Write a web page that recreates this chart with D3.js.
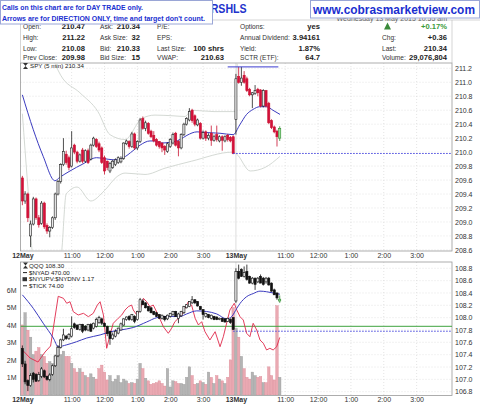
<!DOCTYPE html>
<html>
<head>
<meta charset="utf-8">
<script src="https://cdn.jsdelivr.net/npm/d3@7"></script>
<style>
  body { margin: 0; background: #fff; }
  svg { display: block; }
  text { font-family: "Liberation Sans", Arial, sans-serif; }
</style>
</head>
<body>
<svg id="chart" width="480" height="406"></svg>
<script>
// ---- SPY 5 min bars (12 May full day, 13 May to 10:50) ----
const spyOpen = [
  209.63,209.30,209.40,208.80,208.97,209.33,209.06,208.98,209.27,208.95,
  208.87,208.92,209.06,209.40,209.58,209.82,209.97,209.92,209.80,210.10,
  210.00,209.87,210.03,209.87,210.02,209.90,210.10,210.18,210.12,210.06,
  209.92,209.87,209.73,209.78,209.82,209.85,209.86,209.91,210.12,210.15,
  210.08,210.26,210.06,210.15,210.48,210.34,210.41,210.30,210.24,210.18,
  210.15,210.13,210.08,210.01,210.08,210.13,210.27,210.15,210.06,210.25,
  210.40,210.46,210.60,210.52,210.39,210.41,210.20,210.29,210.20,210.27,
  210.17,210.25,210.16,210.22,210.16,210.24,210.21,210.22,
  210.47,211.08,211.00,211.10,211.05,210.90,210.82,210.84,210.90,210.89,
  210.66,210.88,210.70,210.45,210.36,210.30,210.20];
const spyHigh = [
  209.66,209.44,209.42,209.02,209.36,209.35,209.10,209.30,209.29,208.98,
  208.94,209.08,209.42,209.60,209.84,210.20,210.02,209.95,210.30,210.12,
  210.02,209.98,210.06,210.04,210.05,210.12,210.22,210.20,210.15,210.08,
  209.95,209.88,209.86,209.89,209.91,209.94,209.94,210.14,210.18,210.17,
  210.29,210.28,210.17,210.49,210.51,210.45,210.43,210.32,210.30,210.20,
  210.16,210.14,210.10,210.14,210.20,210.28,210.29,210.17,210.27,210.42,
  210.50,210.63,210.62,210.54,210.48,210.43,210.31,210.31,210.27,210.38,
  210.25,210.38,210.24,210.24,210.24,210.26,210.23,210.24,
  211.12,211.22,211.22,211.16,211.08,210.92,210.86,210.96,210.92,210.90,
  210.90,210.89,210.72,210.47,210.38,210.32,210.37];
const spyLow = [
  209.24,209.26,209.00,208.64,208.95,209.03,208.92,208.96,208.90,208.83,
  208.78,208.90,209.03,209.38,209.55,209.80,209.82,209.74,209.78,209.97,
  209.84,209.85,209.84,209.85,209.83,209.88,210.08,210.06,210.00,209.83,
  209.68,209.74,209.70,209.76,209.80,209.83,209.84,209.89,210.10,210.05,
  210.06,210.03,210.03,210.13,210.32,210.30,210.25,210.20,210.14,210.08,
  210.05,210.00,209.96,209.99,210.06,210.11,210.08,209.94,210.04,210.23,
  210.38,210.44,210.42,210.37,210.37,210.18,210.18,210.16,210.17,210.09,
  210.15,210.15,210.14,210.02,210.14,210.15,210.14,209.97,
  210.25,210.98,210.95,210.98,210.86,210.80,210.63,210.82,210.80,210.64,
  210.64,210.64,210.40,210.33,210.27,210.08,210.16];
const spyClose = [
  209.30,209.40,209.06,208.97,209.33,209.06,208.96,209.27,208.93,208.87,
  208.92,209.06,209.40,209.58,209.82,210.01,209.85,209.78,210.06,210.00,
  209.87,209.96,209.87,210.02,209.85,210.10,210.20,210.08,210.03,209.85,
  209.73,209.78,209.84,209.87,209.89,209.92,209.91,210.13,210.16,210.08,
  210.26,210.06,210.15,210.46,210.34,210.42,210.27,210.22,210.16,210.10,
  210.08,210.06,210.03,210.12,210.18,210.25,210.10,210.06,210.25,210.40,
  210.48,210.58,210.45,210.40,210.46,210.20,210.28,210.20,210.24,210.17,
  210.22,210.18,210.22,210.17,210.22,210.18,210.16,209.98,
  211.05,211.00,211.06,211.00,210.88,210.82,210.85,210.88,210.85,210.66,
  210.88,210.66,210.42,210.35,210.29,210.22,210.34];

// ---- QQQ 5 min bars ----
const qqqOpen = [
  107.50,107.25,106.98,106.90,107.10,107.08,106.98,107.05,107.14,107.05,
  107.00,107.08,107.22,107.38,107.52,107.64,107.70,107.66,107.70,107.90,
  107.88,107.81,107.89,107.86,107.80,107.89,107.83,107.86,107.92,107.98,
  107.91,107.86,107.78,107.66,107.70,107.75,107.80,107.88,107.97,108.02,
  107.97,108.02,107.97,108.10,108.27,108.24,108.18,108.16,108.10,108.08,
  108.05,107.99,108.02,107.98,108.02,108.05,108.10,107.99,108.03,108.08,
  108.16,108.18,108.24,108.29,108.26,108.18,108.13,108.02,108.05,107.99,
  108.02,108.01,107.97,107.99,107.98,107.94,107.97,108.00,
  108.27,108.75,108.78,108.67,108.75,108.67,108.56,108.64,108.58,108.67,
  108.64,108.58,108.64,108.56,108.45,108.40,108.27];
const qqqHigh = [
  107.55,107.30,107.00,107.10,107.12,107.10,107.12,107.20,107.16,107.06,
  107.10,107.24,107.40,107.55,107.66,107.82,107.72,107.75,108.02,107.92,
  107.89,107.90,107.90,107.88,107.90,107.91,107.92,108.00,108.03,108.00,
  107.92,107.87,107.79,107.76,107.81,107.84,107.92,107.99,108.02,108.04,
  108.06,108.04,108.11,108.32,108.30,108.25,108.19,108.17,108.11,108.09,
  108.06,108.05,108.03,108.05,108.08,108.11,108.11,108.08,108.11,108.19,
  108.22,108.27,108.35,108.30,108.27,108.19,108.14,108.08,108.06,108.05,
  108.03,108.02,108.00,108.00,107.99,108.00,107.99,108.01,
  108.80,108.86,108.80,108.83,108.86,108.68,108.66,108.65,108.66,108.70,
  108.66,108.66,108.66,108.57,108.47,108.41,108.36];
const qqqLow = [
  107.20,106.92,106.81,106.88,106.95,106.96,106.96,107.02,107.02,106.98,
  106.97,107.06,107.20,107.36,107.50,107.62,107.64,107.64,107.68,107.82,
  107.80,107.79,107.75,107.78,107.78,107.77,107.81,107.84,107.90,107.88,
  107.85,107.70,107.56,107.64,107.68,107.73,107.79,107.87,107.95,107.95,
  107.95,107.91,107.95,108.08,108.20,108.15,108.10,108.07,108.04,108.01,
  107.98,107.97,107.94,107.96,108.00,108.03,108.01,107.91,108.01,108.06,
  108.15,108.17,108.22,108.22,108.18,108.13,107.97,108.00,107.99,107.97,
  107.96,107.96,107.96,107.93,107.92,107.93,107.90,107.80,
  108.24,108.62,108.66,108.65,108.60,108.55,108.54,108.45,108.56,108.56,
  108.52,108.55,108.52,108.42,108.37,108.29,108.24];
const qqqClose = [
  107.25,106.96,106.90,107.06,107.00,106.97,107.08,107.17,107.04,107.00,
  107.07,107.22,107.38,107.52,107.64,107.72,107.66,107.73,107.82,107.84,
  107.81,107.89,107.78,107.80,107.89,107.78,107.91,107.97,108.00,107.91,
  107.86,107.74,107.66,107.72,107.78,107.83,107.90,107.98,108.01,107.97,
  108.05,107.94,108.10,108.29,108.21,108.16,108.11,108.08,108.05,108.02,
  107.99,108.04,107.97,108.04,108.07,108.10,108.02,108.06,108.10,108.18,
  108.21,108.26,108.29,108.24,108.19,108.13,108.05,108.07,108.00,108.04,
  107.97,107.97,107.99,107.94,107.93,107.99,107.92,107.81,
  108.75,108.64,108.67,108.73,108.62,108.56,108.64,108.54,108.64,108.56,
  108.54,108.64,108.53,108.43,108.37,108.32,108.30];

// ---- volume per bar, millions ----
const volume = [
  4.0,4.7,3.7,3.3,2.3,2.5,2.7,2.3,2.2,1.8,
  1.9,1.8,2.2,2.8,2.3,2.5,2.2,2.2,1.8,1.5,
  1.3,1.5,1.3,1.1,1.0,1.2,1.0,0.9,1.5,1.7,
  1.3,0.85,1.1,0.75,0.9,1.1,0.7,0.9,0.8,0.65,
  0.7,0.65,0.9,1.8,1.5,0.95,0.8,0.6,0.65,0.7,
  0.8,0.65,0.5,1.5,0.45,0.8,0.75,0.65,0.65,0.6,
  1.0,1.6,1.1,0.6,0.65,0.8,0.7,0.6,1.3,1.0,
  0.65,1.1,0.9,0.8,0.65,1.0,2.0,5.0,
  3.8,3.3,2.2,1.5,1.0,0.9,1.3,1.1,1.0,1.05,
  0.7,0.7,1.6,1.1,0.85,5.1,1.0];

// ---- moving averages / bands (bar index, value) ----
const spyMaIdx = [0,4,7.6,11.9,13.7,17.4,22.1,27.1,29.5,33.1,36.8,40.4,43,46.6,48.4,50.3,53.9,57.6,60.1,63.8,67.4,72.2,77,79.4,81.9,84.2,86.7,89.2,91.5,94.1];
const spyMaVal = [210.82,210.32,209.94,209.59,209.64,209.73,209.83,209.92,209.91,209.89,209.92,210.02,210.10,210.16,210.16,210.13,210.14,210.18,210.24,210.29,210.28,210.27,210.25,210.39,210.54,210.61,210.65,210.65,210.60,210.54];
const bbUpIdx = [10,14,21,27.6,32,37.5,43.6,48.4,55,59.4,61.8,70,77.7,78.6];
const bbUpVal = [211.45,211.10,210.85,210.58,210.25,210.18,210.48,210.53,210.52,210.51,210.60,210.58,210.58,211.45];
const bbLoIdx = [0,2,4,14,16,20,25,30,34.6,37.5,44.8,52.1,61.8,76.9,78.3,83.2,88.6,94.1];
const bbLoVal = [210.55,209.50,208.50,208.50,209.40,209.50,209.30,209.45,209.65,209.70,209.68,209.77,209.87,210.00,209.97,209.73,209.78,209.94];

const qqqMaIdx = [0,4,7.6,11.3,13.1,16.2,19.8,23.5,28.4,32,35.7,40.5,45.4,49.1,52.7,57.6,60,63.7,67.3,71,74.6,76.5,78.3,79.5,81.9,84.3,86.8,89.2,91.6,94.1];
const qqqMaVal = [108.37,108.15,107.91,107.67,107.53,107.56,107.61,107.67,107.72,107.77,107.80,107.84,107.93,108.00,108.02,108.02,108.06,108.11,108.10,108.06,107.98,108.02,108.15,108.23,108.34,108.39,108.43,108.42,108.40,108.38];

// $TICK line (bar index, value)
const tickIdx = [0,2.8,5.7,8.3,10.3,13.1,15,16.2,17.4,18.6,20.4,22.3,24.1,25.9,27.4,28.4,29.6,30.8,32,33.2,35,36.3,37.5,38.7,39.9,40.5,41.8,43,44.2,45.4,46.6,47.8,49.6,51.5,53.3,54.5,55.7,57,58.2,59.4,60.6,61.8,63.1,64.3,65.5,66.7,68.5,70.4,72.2,73.4,75.8,77.4,78.3,79.5,80.7,81.9,83.1,84.3,85.6,86.8,88,89.2,90.4,91.6,92.9,94];
const tickVal = [-113,-233,-293,-143,-54,688,658,584,607,458,409,434,384,434,558,607,409,-88,110,285,360,409,484,533,558,484,409,484,658,607,533,558,409,234,136,210,309,360,409,509,607,558,360,260,309,160,36,160,-64,85,484,584,484,384,334,136,85,285,185,36,-13,-113,-88,-113,-64,74];

// reference levels
const spyHighLine = 211.22, spyPrevClose = 209.98;
const qqqGreenLine = 107.86, qqqPrevClose = 107.78;

// axis ticks
const timeTickIdx = [0,18,30,42,54,66,78,96,108,120,132,144];
const timeLabels = ["12May","11:00","12:00","1:00","2:00","3:00","13May","11:00","12:00","1:00","2:00","3:00"];
const spyTicks = [208.6,208.8,209.0,209.2,209.4,209.6,209.8,210.0,210.2,210.4,210.6,210.8,211.0,211.2];
const qqqTicks = [106.8,107.0,107.2,107.4,107.6,107.8,108.0,108.2,108.4,108.6,108.8];
const volTicks = [1,2,3,4,5,6];

// ---------------------------------------------------------------
const svg = d3.select("#chart");
const L = 20.5, R = 452;
const up = { top: 63, bottom: 251 };
const lo = { top: 262, bottom: 395.5 };

const x = d3.scaleLinear().domain([0, 156]).range([21, 448.1]);
const cx = i => x(i + 0.5);
const yUp = d3.scaleLinear().domain([208.6, 211.2]).range([249.9, 68.3]);
const yLo = d3.scaleLinear().domain([106.8, 108.8]).range([391.7, 268.3]);
const yVol = d3.scaleLinear().domain([0, 6]).range([394.8, 290]);
const yTick = d3.scaleLinear().domain([-800, 1200]).range([396, 262]);

const defs = svg.append("defs");
defs.append("clipPath").attr("id", "clipUp").append("rect")
    .attr("x", L).attr("y", up.top).attr("width", R - L).attr("height", up.bottom - up.top);
defs.append("clipPath").attr("id", "clipLo").append("rect")
    .attr("x", L).attr("y", lo.top).attr("width", R - L).attr("height", lo.bottom - lo.top);

// ---- panel grids ----
function drawGrid(panel, yScale, ticks) {
    const g = svg.append("g");
    g.selectAll(".hg").data(ticks).enter().append("line")
        .attr("x1", L).attr("x2", R)
        .attr("y1", d => yScale(d)).attr("y2", d => yScale(d))
        .attr("stroke", "#d4d4d4").attr("stroke-width", 0.6).attr("stroke-dasharray", "1,2");
    g.selectAll(".vg").data(timeTickIdx.slice(1)).enter().append("line")
        .attr("x1", d => cx(d)).attr("x2", d => cx(d))
        .attr("y1", panel.top).attr("y2", panel.bottom)
        .attr("stroke", d => d === 78 ? "#c8c8c8" : "#d4d4d4").attr("stroke-width", 0.6)
        .attr("stroke-dasharray", d => d === 78 ? null : "1,2");
    svg.append("rect").attr("x", L).attr("y", panel.top)
        .attr("width", R - L).attr("height", panel.bottom - panel.top)
        .attr("fill", "none").attr("stroke", "#9a9a9a").attr("stroke-width", 0.8);
}
drawGrid(up, yUp, spyTicks);
drawGrid(lo, yLo, qqqTicks);

// ---- candle helper ----
function drawCandles(g, o, h, l, c, y, st) {
    const bw = 2.1;
    o.forEach((op, i) => {
        const isUp = c[i] >= op;
        const last = i === o.length - 1;
        const stroke = last ? "#2e8b2e" : (isUp ? st.upStroke : st.downStroke);
        const fill = last ? "#9ee09e" : (isUp ? st.upFill : st.downFill);
        g.append("line")
            .attr("x1", cx(i)).attr("x2", cx(i))
            .attr("y1", y(h[i])).attr("y2", y(l[i]))
            .attr("stroke", stroke).attr("stroke-width", 0.8);
        const top = y(Math.max(op, c[i])), bot = y(Math.min(op, c[i]));
        g.append("rect")
            .attr("x", cx(i) - bw / 2).attr("y", top)
            .attr("width", bw).attr("height", Math.max(bot - top, 0.8))
            .attr("fill", fill).attr("stroke", stroke).attr("stroke-width", 0.6);
    });
}
const knotLine = (xs, ys, yScale) => d3.line()
    .x((d, k) => cx(xs[k])).y(d => yScale(d))
    .curve(d3.curveMonotoneX)(ys);

// ---- upper panel: SPY ----
const gUp = svg.append("g").attr("clip-path", "url(#clipUp)");
gUp.append("path").attr("d", knotLine(bbUpIdx, bbUpVal, yUp))
    .attr("fill", "none").attr("stroke", "#c9cfc9").attr("stroke-width", 0.8);
gUp.append("path").attr("d", knotLine(bbLoIdx, bbLoVal, yUp))
    .attr("fill", "none").attr("stroke", "#c9cfc9").attr("stroke-width", 0.8);
gUp.append("path").attr("d", knotLine(spyMaIdx, spyMaVal, yUp))
    .attr("fill", "none").attr("stroke", "#3b3bbf").attr("stroke-width", 1);
drawCandles(gUp, spyOpen, spyHigh, spyLow, spyClose, yUp,
    { upFill: "#e8e8e8", upStroke: "#222", downFill: "#d4103c", downStroke: "#c8102e" });
gUp.append("line").attr("x1", x(75.5)).attr("x2", x(94))
    .attr("y1", yUp(spyHighLine)).attr("y2", yUp(spyHighLine))
    .attr("stroke", "#3b3bd0").attr("stroke-width", 1);
gUp.append("line").attr("x1", cx(77)).attr("x2", R)
    .attr("y1", yUp(spyPrevClose)).attr("y2", yUp(spyPrevClose))
    .attr("stroke", "#4a4ae0").attr("stroke-width", 1).attr("stroke-dasharray", "1.5,1.5");

// ---- lower panel: volume, $TICK, QQQ ----
const gLo = svg.append("g").attr("clip-path", "url(#clipLo)");
gLo.selectAll(".vol").data(volume).enter().append("rect")
    .attr("x", (d, i) => cx(i) - 1.25).attr("width", 2.5)
    .attr("y", d => yVol(d)).attr("height", d => yVol(0) - yVol(d))
    .attr("fill", (d, i) => spyClose[i] >= spyOpen[i] ? "#b4b4b4" : "#eaa9b2")
    .attr("stroke", (d, i) => spyClose[i] >= spyOpen[i] ? "#9c9c9c" : "#dc8c98")
    .attr("stroke-width", 0.4);
gLo.append("line").attr("x1", L).attr("x2", R)
    .attr("y1", yLo(qqqGreenLine)).attr("y2", yLo(qqqGreenLine))
    .attr("stroke", "#3fa33f").attr("stroke-width", 1);
gLo.append("line").attr("x1", cx(77)).attr("x2", R)
    .attr("y1", yLo(qqqPrevClose)).attr("y2", yLo(qqqPrevClose))
    .attr("stroke", "#4a4ae0").attr("stroke-width", 1).attr("stroke-dasharray", "1.5,1.5");
gLo.append("path")
    .attr("d", d3.line().x((d, k) => cx(tickIdx[k])).y(d => yTick(d))(tickVal))
    .attr("fill", "none").attr("stroke", "#e0284a").attr("stroke-width", 0.9);
gLo.append("path").attr("d", knotLine(qqqMaIdx, qqqMaVal, yLo))
    .attr("fill", "none").attr("stroke", "#3b3bbf").attr("stroke-width", 1);
drawCandles(gLo, qqqOpen, qqqHigh, qqqLow, qqqClose, yLo,
    { upFill: "#f4f4f4", upStroke: "#111", downFill: "#111", downStroke: "#111" });

// ---- axes ----
function styleAxis(g) {
    g.select(".domain").remove();
    g.selectAll("text").attr("fill", "#333").style("font-size", "7px")
        .style("font-family", "'Liberation Sans', Arial, sans-serif");
}
svg.append("g").attr("transform", `translate(${R},0)`)
    .call(d3.axisRight(yUp).tickValues(spyTicks).tickFormat(d3.format(".1f")).tickSize(0).tickPadding(3))
    .call(styleAxis);
svg.append("g").attr("transform", `translate(${R},0)`)
    .call(d3.axisRight(yLo).tickValues(qqqTicks).tickFormat(d3.format(".1f")).tickSize(0).tickPadding(3))
    .call(styleAxis);
svg.append("g").attr("transform", `translate(${L},0)`)
    .call(d3.axisLeft(yVol).tickValues(volTicks).tickFormat(d => d + "M").tickSize(0).tickPadding(4))
    .call(styleAxis);
[up.bottom, lo.bottom].forEach(yb => {
    svg.append("g").attr("transform", `translate(0,${yb})`)
        .call(d3.axisBottom(x).tickValues(timeTickIdx.map(i => i + 0.5))
            .tickFormat((d, k) => timeLabels[k]).tickSize(0).tickPadding(2))
        .call(styleAxis)
        .selectAll("text").style("font-weight", (d, k) => timeLabels[k].includes("May") ? "bold" : "normal");
});

// ---- legends ----
function legendIcon(xp, yp) {
    svg.append("path")
        .attr("d", `M${xp},${yp - 3} L${xp + 5},${yp - 3} L${xp + 2.5},${yp} Z M${xp + 2.5},${yp} L${xp},${yp + 3} L${xp + 5},${yp + 3} Z`)
        .attr("fill", "#333");
}
const mono = "'DejaVu Sans Mono', monospace";
legendIcon(23, 66);
svg.append("text").attr("x", 30).attr("y", 68.2).attr("font-family", mono)
    .attr("font-size", 6.2).attr("fill", "#222").text("SPY (5 min) 210.34");

const loLegend = [
    { sym: "icon", label: "QQQ 108.30" },
    { sym: "dash", label: "$NYAD 470.00" },
    { sym: "bars", label: "$NYUPV:$NYDNV 1.17" },
    { sym: "dash", label: "$TICK 74.00" }
];
loLegend.forEach((d, k) => {
    const yy = 266 + k * 6.6;
    if (d.sym === "icon") legendIcon(23, yy - 0.5);
    if (d.sym === "dash") svg.append("line").attr("x1", 23).attr("x2", 27).attr("y1", yy).attr("y2", yy)
        .attr("stroke", "#222").attr("stroke-width", 1);
    if (d.sym === "bars") svg.append("rect").attr("x", 22.5).attr("y", yy - 2).attr("width", 4.5).attr("height", 4)
        .attr("fill", "#333");
    svg.append("text").attr("x", 29).attr("y", yy + 2.2).attr("font-family", mono)
        .attr("font-size", 6.2).attr("fill", "#222").text(d.label);
});

// ---- header info table ----
svg.append("line").attr("x1", L).attr("x2", 480).attr("y1", 20).attr("y2", 20).attr("stroke", "#bbb").attr("stroke-width", 0.6);
svg.append("line").attr("x1", L).attr("x2", L).attr("y1", 20).attr("y2", up.top).attr("stroke", "#bbb").attr("stroke-width", 0.6);
svg.append("line").attr("x1", R).attr("x2", R).attr("y1", 20).attr("y2", up.top).attr("stroke", "#bbb").attr("stroke-width", 0.6);

const rowsY = [29.3, 40.2, 50.8, 59.8];
const infoCols = [
    { lx: 23, vx: 85, labels: ["Open:", "High:", "Low:", "Prev Close:"], values: ["210.47", "211.22", "210.08", "209.98"] },
    { lx: 100, vx: 140, labels: ["Ask:", "Ask Size:", "Bid:", "Bid Size:"], values: ["210.34", "32", "210.33", "15"] },
    { lx: 157, vx: 224, labels: ["P/E:", "EPS:", "Last Size:", "VWAP:"], values: ["", "", "100 shrs", "210.63"] },
    { lx: 240, vx: 320, labels: ["Options:", "Annual Dividend:", "Yield:", "SCTR (ETF):"], values: ["yes", "3.94161", "1.87%", "64.7"] },
    { lx: 382, vx: 447, labels: ["", "Chg:", "Last:", "Volume:"], values: ["+0.17%", "+0.36", "210.34", "29,076,804"] }
];
infoCols.forEach(col => {
    col.labels.forEach((lab, r) => {
        svg.append("text").attr("x", col.lx).attr("y", rowsY[r]).attr("font-size", 6.6).attr("fill", "#333").text(lab);
        svg.append("text").attr("x", col.vx).attr("y", rowsY[r]).attr("text-anchor", "end")
            .attr("font-size", 7.6).attr("font-weight", "bold")
            .attr("fill", col.values[r].startsWith("+0.17") ? "#3a9a3a" : "#222").text(col.values[r]);
    });
});
svg.append("path").attr("d", "M384,29.5 L387.5,22.5 L391,29.5 Z").attr("fill", "#3a8a3a");

// ---- title and banners ----
svg.append("text").attr("x", 447).attr("y", 21).attr("text-anchor", "end")
    .attr("font-size", 7).attr("fill", "#666").text("Wednesday 13 May 2015 10:55 am");
svg.append("text").attr("x", 210.7).attr("y", 12.5).attr("font-size", 12.5).attr("font-weight", "bold")
    .attr("fill", "#2233cc").attr("textLength", 36).attr("lengthAdjust", "spacingAndGlyphs").text("RSHLS");

svg.append("rect").attr("x", 0.5).attr("y", 0.5).attr("width", 212).attr("height", 23.5)
    .attr("fill", "#fff").attr("stroke", "#9aa6d6").attr("stroke-width", 1);
svg.append("text").attr("x", 2).attr("y", 10).attr("font-size", 7.6).attr("font-weight", "bold")
    .attr("fill", "#1a2fd0").attr("textLength", 141).attr("lengthAdjust", "spacingAndGlyphs")
    .text("Calls on this chart are for DAY TRADE only.");
svg.append("text").attr("x", 2).attr("y", 20.5).attr("font-size", 7.6).attr("font-weight", "bold")
    .attr("fill", "#1a2fd0").attr("textLength", 203).attr("lengthAdjust", "spacingAndGlyphs")
    .text("Arrows are for DIRECTION ONLY, time and target don't count.");

svg.append("rect").attr("x", 310.5).attr("y", 0.5).attr("width", 169).attr("height", 17.5)
    .attr("fill", "#fff").attr("stroke", "#9aa6d6").attr("stroke-width", 1);
svg.append("text").attr("x", 313).attr("y", 13.5).attr("font-size", 12.5).attr("font-weight", "bold")
    .attr("fill", "#1a2fd0").attr("textLength", 162).attr("lengthAdjust", "spacingAndGlyphs")
    .text("www.cobrasmarketview.com");
</script>
</body>
</html>
